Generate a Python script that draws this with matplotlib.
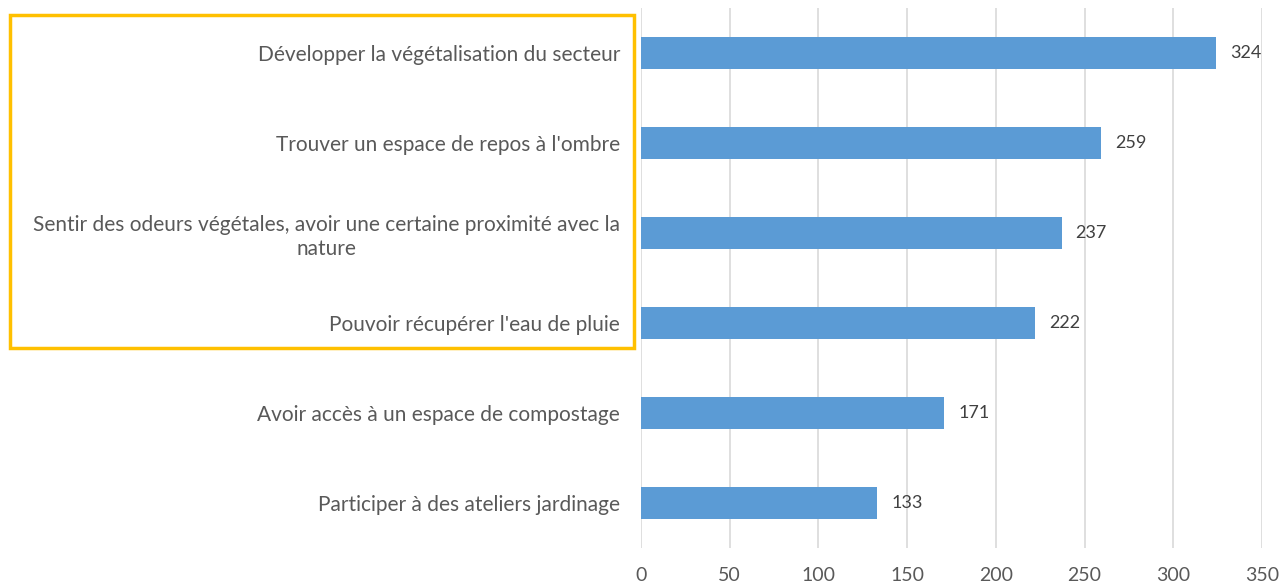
import matplotlib.pyplot as plt
from matplotlib.patches import Rectangle

categories = [
    "Développer la végétalisation du secteur",
    "Trouver un espace de repos à l'ombre",
    "Sentir des odeurs végétales, avoir une certaine proximité avec la\nnature",
    "Pouvoir récupérer l'eau de pluie",
    "Avoir accès à un espace de compostage",
    "Participer à des ateliers jardinage",
]
values = [324, 259, 237, 222, 171, 133]
x_ticks = [0, 50, 100, 150, 200, 250, 300, 350]

plt.rcParams['font.family'] = ['Lato', 'DejaVu Sans']

fig = plt.figure(figsize=(12.79, 5.82), dpi=100)
ax = fig.add_axes([0.5012, 0.0584, 0.4855, 0.9278])

pos = list(range(len(categories)))
ax.barh(pos, values, height=0.35, color='#5B9BD5', zorder=3)
for p, v in zip(pos, values):
    ax.text(v + 8, p, str(v), va='center', ha='left', fontsize=13, color='#404040')

ax.set_ylim(len(categories) - 0.5, -0.5)
ax.set_xlim(0, 350)
ax.set_xticks(x_ticks)
ax.set_yticks(pos)
ax.set_yticklabels(categories, multialignment='center', linespacing=1.25)
ax.tick_params(axis='y', length=0, pad=15, labelsize=15, labelcolor='#595959')
ax.tick_params(axis='x', length=0, pad=14, labelsize=14, labelcolor='#595959')
ax.grid(axis='x', color='#D9D9D9', linewidth=1.2, zorder=0)
for s in ax.spines.values():
    s.set_visible(False)

# yellow highlight box around the top four labels
rect = Rectangle((10 / 1279, 1 - 348 / 582), 624 / 1279, 333 / 582,
                 transform=fig.transFigure, fill=False, edgecolor='#FFC000',
                 linewidth=2.5, zorder=10)
fig.patches.append(rect)

fig.savefig('out.png', dpi=100)
